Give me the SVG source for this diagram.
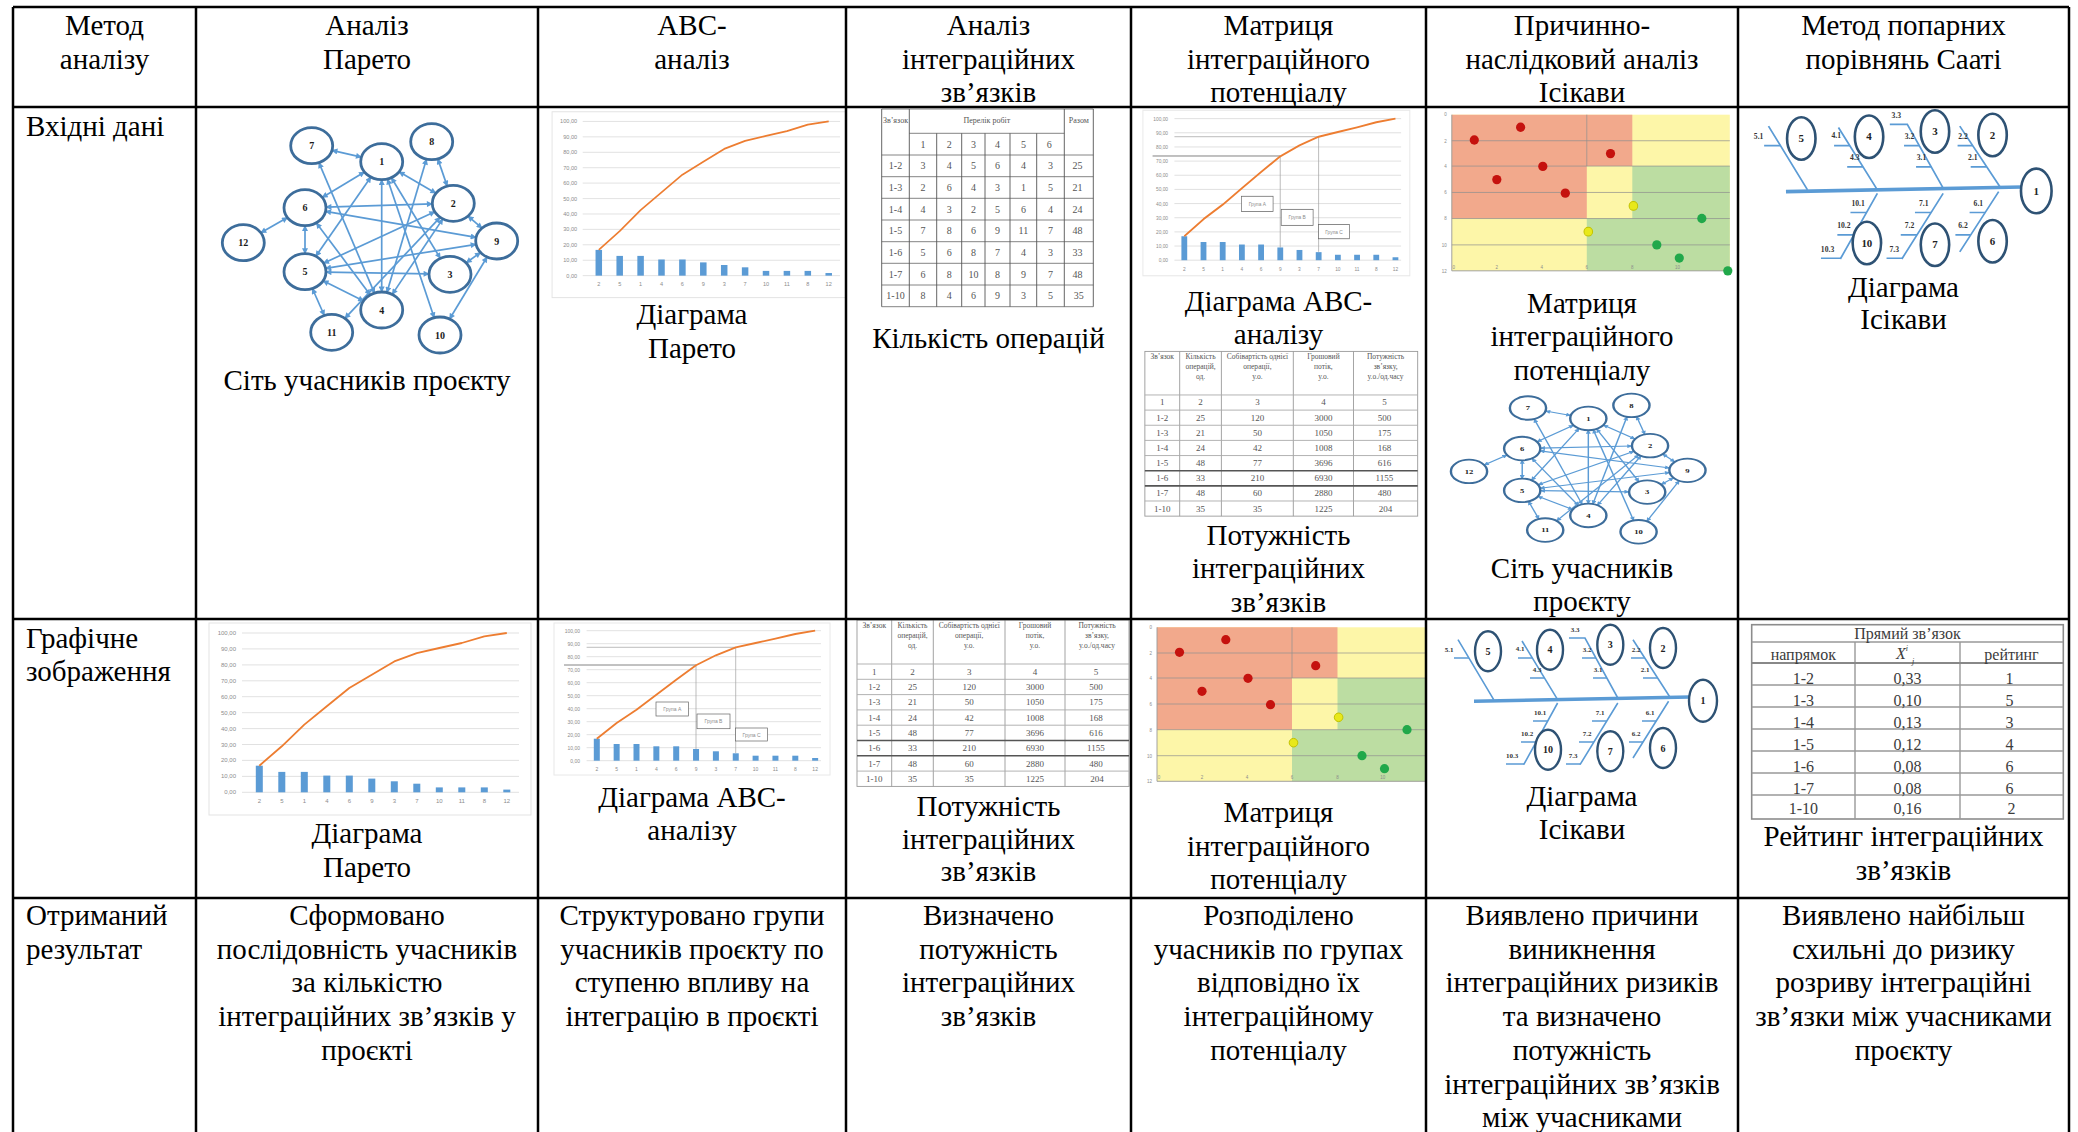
<svg xmlns="http://www.w3.org/2000/svg" width="2078" height="1132" viewBox="0 0 2078 1132">
<style>
.t{font-family:"Liberation Serif","Times New Roman",serif;font-size:29px;fill:#000}
.c{text-anchor:middle}
.tl{stroke:#000;stroke-width:2.5;fill:none}
.edge{stroke:#5b9bd5;stroke-width:1.7;fill:none;marker-start:url(#arr);marker-end:url(#arr)}
.nd{fill:#fff;stroke:#3d6d9b;stroke-width:2.8}
.nl{font-family:"Liberation Serif",serif;font-size:10px;font-weight:bold;text-anchor:middle;fill:#1a1a1a}
.gl{stroke:#d9d9d9;stroke-width:0.8;fill:none}
.ax{font-family:"Liberation Sans",sans-serif;fill:#8c8c8c}
.bar{fill:#5b9bd5}
.cur{fill:none;stroke:#ed7d31;stroke-width:1.8;stroke-linejoin:round}
.fb{stroke:#5b9bd5;fill:none;stroke-width:1.6}
.fc{fill:#fff;stroke:#2e5274;stroke-width:2.4}
.fl{font-family:"Liberation Serif",serif;font-size:7px;font-weight:bold;text-anchor:middle;fill:#333}
.fn{font-family:"Liberation Serif",serif;font-size:10px;font-weight:bold;text-anchor:middle;fill:#222}
.st{font-family:"Liberation Serif",serif;fill:#555;text-anchor:middle}
.rt{font-family:"Liberation Serif",serif;font-size:16px;fill:#3c3c3c;text-anchor:middle}
</style>
<defs>
<marker id="arr" viewBox="0 0 10 10" refX="9" refY="5" markerWidth="7" markerHeight="6" orient="auto-start-reverse" markerUnits="userSpaceOnUse"><path d="M0 0L10 5L0 10z" fill="#5b9bd5"/></marker>
<clipPath id="clipC2"><rect x="538" y="107" width="308" height="512"/></clipPath>
<clipPath id="clipC4"><rect x="1131" y="619" width="295" height="279"/></clipPath>

<g id="net">
<g id="net-edges">
<line class="edge" x1="332" y1="150.3" x2="361.4" y2="157.1"/>
<line class="edge" x1="318.9" y1="162.6" x2="374.5" y2="293.1"/>
<line class="edge" x1="364.5" y1="172" x2="322.2" y2="197.4"/>
<line class="edge" x1="370.9" y1="177.1" x2="315.8" y2="256.3"/>
<line class="edge" x1="381.7" y1="179.7" x2="381.7" y2="292"/>
<line class="edge" x1="399.1" y1="171.8" x2="435.9" y2="193.2"/>
<line class="edge" x1="391.4" y1="177.7" x2="440.3" y2="258.3"/>
<line class="edge" x1="387.5" y1="179" x2="434.2" y2="317.7"/>
<line class="edge" x1="437.8" y1="158.9" x2="447.2" y2="186.1"/>
<line class="edge" x1="426.5" y1="159.1" x2="386.9" y2="292.6"/>
<line class="edge" x1="326" y1="207.1" x2="432.3" y2="203.9"/>
<line class="edge" x1="325.6" y1="211.3" x2="476.1" y2="237.4"/>
<line class="edge" x1="316.4" y1="222.9" x2="370.3" y2="294.9"/>
<line class="edge" x1="305" y1="225.7" x2="305" y2="253.7"/>
<line class="edge" x1="260.8" y1="232.8" x2="287.5" y2="217.6"/>
<line class="edge" x1="323.5" y1="263.2" x2="434.8" y2="211.8"/>
<line class="edge" x1="325.6" y1="268.4" x2="476.1" y2="244.3"/>
<line class="edge" x1="326" y1="272.1" x2="429" y2="273.9"/>
<line class="edge" x1="323.1" y1="280.8" x2="363.6" y2="300.9"/>
<line class="edge" x1="312.4" y1="288.5" x2="324.3" y2="315.5"/>
<line class="edge" x1="442.8" y1="218.9" x2="392.2" y2="294.4"/>
<line class="edge" x1="468" y1="216.1" x2="482" y2="228.2"/>
<line class="edge" x1="480.5" y1="252.5" x2="466.2" y2="262.8"/>
<line class="edge" x1="487.1" y1="257" x2="449.6" y2="319"/>
<line class="edge" x1="440.1" y1="217.3" x2="344.9" y2="318.3"/>
</g>
<g id="net-n1"><ellipse class="nd" cx="381.7" cy="161.7" rx="21" ry="18"/><text class="nl" x="381.7" y="165.2">1</text></g>
<g id="net-n2"><ellipse class="nd" cx="453.3" cy="203.3" rx="21" ry="18"/><text class="nl" x="453.3" y="206.8">2</text></g>
<g id="net-n3"><ellipse class="nd" cx="450" cy="274.3" rx="21" ry="18"/><text class="nl" x="450" y="277.8">3</text></g>
<g id="net-n4"><ellipse class="nd" cx="381.7" cy="310" rx="21" ry="18"/><text class="nl" x="381.7" y="313.5">4</text></g>
<g id="net-n5"><ellipse class="nd" cx="305" cy="271.7" rx="21" ry="18"/><text class="nl" x="305" y="275.2">5</text></g>
<g id="net-n6"><ellipse class="nd" cx="305" cy="207.7" rx="21" ry="18"/><text class="nl" x="305" y="211.2">6</text></g>
<g id="net-n7"><ellipse class="nd" cx="311.7" cy="145.7" rx="21" ry="18"/><text class="nl" x="311.7" y="149.2">7</text></g>
<g id="net-n8"><ellipse class="nd" cx="431.7" cy="141.7" rx="21" ry="18"/><text class="nl" x="431.7" y="145.2">8</text></g>
<g id="net-n9"><ellipse class="nd" cx="496.7" cy="241" rx="21" ry="18"/><text class="nl" x="496.7" y="244.5">9</text></g>
<g id="net-n10"><ellipse class="nd" cx="440" cy="335" rx="21" ry="18"/><text class="nl" x="440" y="338.5">10</text></g>
<g id="net-n11"><ellipse class="nd" cx="331.7" cy="332.3" rx="21" ry="18"/><text class="nl" x="331.7" y="335.8">11</text></g>
<g id="net-n12"><ellipse class="nd" cx="243.3" cy="242.7" rx="21" ry="18"/><text class="nl" x="243.3" y="246.2">12</text></g>
</g>

<g id="par">
<rect x="209" y="623" width="322" height="192" fill="#fff" stroke="#e3e3e3"/>
<path class="gl" d="M242 633H519M242 648.9H519M242 664.9H519M242 680.8H519M242 696.7H519M242 712.7H519M242 728.6H519M242 744.5H519M242 760.4H519M242 776.4H519M242 792.3H519"/>
<text class="ax" font-size="6" text-anchor="end"><tspan x="236" y="635">100,00</tspan><tspan x="236" y="651">90,00</tspan><tspan x="236" y="667">80,00</tspan><tspan x="236" y="683">70,00</tspan><tspan x="236" y="699">60,00</tspan><tspan x="236" y="715">50,00</tspan><tspan x="236" y="730.6">40,00</tspan><tspan x="236" y="746.5">30,00</tspan><tspan x="236" y="762.4">20,00</tspan><tspan x="236" y="778.4">10,00</tspan><tspan x="236" y="794.3">0,00</tspan></text>
<rect class="bar" x="255.8" y="765.7" width="7" height="26.6"/>
<rect class="bar" x="278.3" y="771.9" width="7" height="20.4"/>
<rect class="bar" x="300.8" y="771.9" width="7" height="20.4"/>
<rect class="bar" x="323.3" y="775.6" width="7" height="16.7"/>
<rect class="bar" x="345.8" y="775.6" width="7" height="16.7"/>
<rect class="bar" x="368.3" y="778.6" width="7" height="13.7"/>
<rect class="bar" x="390.8" y="781.3" width="7" height="11"/>
<rect class="bar" x="413.3" y="783.7" width="7" height="8.6"/>
<rect class="bar" x="435.8" y="787.4" width="7" height="4.9"/>
<rect class="bar" x="458.3" y="787.4" width="7" height="4.9"/>
<rect class="bar" x="480.8" y="787.4" width="7" height="4.9"/>
<rect class="bar" x="503.3" y="789.6" width="7" height="2.7"/>
<path class="cur" d="M259.3 765.7L281.8 746.3L304.3 724.6L326.8 706.3L349.3 688L371.8 674.7L394.3 661.4L416.8 653.1L439.3 648L461.8 643L484.3 636.3L506.8 633"/>
<text class="ax" font-size="6" text-anchor="middle" y="803"><tspan x="259.3">2</tspan><tspan x="281.8">5</tspan><tspan x="304.3">1</tspan><tspan x="326.8">4</tspan><tspan x="349.3">6</tspan><tspan x="371.8">9</tspan><tspan x="394.3">3</tspan><tspan x="416.8">7</tspan><tspan x="439.3">10</tspan><tspan x="461.8">11</tspan><tspan x="484.3">8</tspan><tspan x="506.8">12</tspan></text>
</g>

<g id="abc">
<rect x="554" y="623" width="276" height="152" fill="#fff" stroke="#e8e8e8"/>
<path class="gl" d="M586.6 630.7H821M586.6 643.7H821M586.6 656.7H821M586.6 669.7H821M586.6 682.7H821M586.6 695.7H821M586.6 708.7H821M586.6 721.7H821M586.6 734.7H821M586.6 747.7H821M586.6 760.7H821"/>
<text class="ax" font-size="5" text-anchor="end"><tspan x="580" y="632.5">100,00</tspan><tspan x="580" y="645.5">90,00</tspan><tspan x="580" y="658.5">80,00</tspan><tspan x="580" y="671.5">70,00</tspan><tspan x="580" y="684.5">60,00</tspan><tspan x="580" y="697.5">50,00</tspan><tspan x="580" y="710.5">40,00</tspan><tspan x="580" y="723.5">30,00</tspan><tspan x="580" y="736.5">20,00</tspan><tspan x="580" y="749.5">10,00</tspan><tspan x="580" y="762.5">0,00</tspan></text>
<path d="M564 665H696" stroke="#666" stroke-width="0.8"/>
<path d="M696 665V749M586.6 647.3H735.7M735.7 647.3V753" stroke="#a0a0a0" stroke-width="0.7" fill="none"/>
<rect class="bar" x="593.8" y="738.7" width="6" height="22"/>
<rect class="bar" x="613.65" y="744" width="6" height="16.7"/>
<rect class="bar" x="633.5" y="744" width="6" height="16.7"/>
<rect class="bar" x="653.35" y="746.3" width="6" height="14.4"/>
<rect class="bar" x="673.2" y="746.3" width="6" height="14.4"/>
<rect class="bar" x="693.05" y="749" width="6" height="11.7"/>
<rect class="bar" x="712.9" y="751.3" width="6" height="9.4"/>
<rect class="bar" x="732.75" y="753.3" width="6" height="7.4"/>
<rect class="bar" x="752.6" y="755.7" width="6" height="5"/>
<rect class="bar" x="772.45" y="755.7" width="6" height="5"/>
<rect class="bar" x="792.3" y="755.7" width="6" height="5"/>
<rect class="bar" x="812.15" y="758" width="6" height="2.7"/>
<path class="cur" d="M596.8 738.7L616.65 723L636.5 709.7L656.35 694.7L676.2 679.7L696.05 665.3L715.9 655.3L735.75 647.3L755.6 643L775.45 638.7L795.3 634L815.15 630.7"/>
<g fill="#fff" stroke="#666" stroke-width="0.7"><rect x="656" y="702" width="32.6" height="14"/><rect x="697" y="714" width="33" height="14.7"/><rect x="735.6" y="728" width="32" height="13"/></g>
<text class="ax" font-size="5" fill="#444" text-anchor="middle"><tspan x="672.3" y="711">Група А</tspan><tspan x="713.5" y="723.3">Група В</tspan><tspan x="751.6" y="736.5">Група С</tspan></text>
<text class="ax" font-size="5" text-anchor="middle" y="770.5"><tspan x="596.8">2</tspan><tspan x="616.65">5</tspan><tspan x="636.5">1</tspan><tspan x="656.35">4</tspan><tspan x="676.2">6</tspan><tspan x="696.05">9</tspan><tspan x="715.9">3</tspan><tspan x="735.75">7</tspan><tspan x="755.6">10</tspan><tspan x="775.45">11</tspan><tspan x="795.3">8</tspan><tspan x="815.15">12</tspan></text>
</g>

<g id="pot">
<rect x="857" y="620" width="272" height="166.4" fill="#fff" stroke="#999" stroke-width="0.9"/>
<path d="M891.7 620V786.4M933.3 620V786.4M1005 620V786.4M1065 620V786.4" stroke="#999" stroke-width="0.9"/>
<path d="M857 664H1129M857 679.3H1129M857 694.6H1129M857 709.9H1129M857 725.2H1129M857 771.1H1129" stroke="#aaa" stroke-width="0.9"/>
<path d="M857 740.5H1129M857 755.8H1129" stroke="#555" stroke-width="1.6"/>
<text class="st" font-size="7.5"><tspan x="874.3" y="627.5">Зв’язок</tspan><tspan x="912.5" y="627.5">Кількість</tspan><tspan x="912.5" y="637.5">операцій,</tspan><tspan x="912.5" y="648">од.</tspan><tspan x="969.2" y="627.5">Собівартість однієї</tspan><tspan x="969.2" y="637.5">операції,</tspan><tspan x="969.2" y="648">у.о.</tspan><tspan x="1035" y="627.5">Грошовий</tspan><tspan x="1035" y="637.5">потік,</tspan><tspan x="1035" y="648">у.о.</tspan><tspan x="1097" y="627.5">Потужність</tspan><tspan x="1097" y="637.5">зв’язку,</tspan><tspan x="1097" y="648">у.о./од.часу</tspan></text>
<text class="st" font-size="9">
<tspan x="874.3" y="674.6">1</tspan><tspan x="912.5" y="674.6">2</tspan><tspan x="969.2" y="674.6">3</tspan><tspan x="1035" y="674.6">4</tspan><tspan x="1097" y="674.6">5</tspan>
<tspan x="874.3" y="690">1-2</tspan><tspan x="912.5" y="690">25</tspan><tspan x="969.2" y="690">120</tspan><tspan x="1035" y="690">3000</tspan><tspan x="1097" y="690">500</tspan>
<tspan x="874.3" y="705.3">1-3</tspan><tspan x="912.5" y="705.3">21</tspan><tspan x="969.2" y="705.3">50</tspan><tspan x="1035" y="705.3">1050</tspan><tspan x="1097" y="705.3">175</tspan>
<tspan x="874.3" y="720.6">1-4</tspan><tspan x="912.5" y="720.6">24</tspan><tspan x="969.2" y="720.6">42</tspan><tspan x="1035" y="720.6">1008</tspan><tspan x="1097" y="720.6">168</tspan>
<tspan x="874.3" y="735.9">1-5</tspan><tspan x="912.5" y="735.9">48</tspan><tspan x="969.2" y="735.9">77</tspan><tspan x="1035" y="735.9">3696</tspan><tspan x="1097" y="735.9">616</tspan>
<tspan x="874.3" y="751.2">1-6</tspan><tspan x="912.5" y="751.2">33</tspan><tspan x="969.2" y="751.2">210</tspan><tspan x="1035" y="751.2">6930</tspan><tspan x="1097" y="751.2">1155</tspan>
<tspan x="874.3" y="766.5">1-7</tspan><tspan x="912.5" y="766.5">48</tspan><tspan x="969.2" y="766.5">60</tspan><tspan x="1035" y="766.5">2880</tspan><tspan x="1097" y="766.5">480</tspan>
<tspan x="874.3" y="781.8">1-10</tspan><tspan x="912.5" y="781.8">35</tspan><tspan x="969.2" y="781.8">35</tspan><tspan x="1035" y="781.8">1225</tspan><tspan x="1097" y="781.8">204</tspan>
</text>
</g>

<g id="mtx">
<rect x="1157" y="627.3" width="278" height="154" fill="#fdf6a8"/>
<path fill="#f2a98c" d="M1157 627.3H1337.5V678H1292V729.7H1157Z"/>
<path fill="#bcdda2" d="M1337.5 678H1435V781.3H1292V729.7H1337.5Z"/>
<path stroke="#8f8f8f" stroke-width="0.7" fill="none" d="M1157 653H1435M1157 678H1435M1157 704H1435M1157 729.7H1435M1157 755.7H1435M1292 627.3V678"/>
<path stroke="#999" stroke-width="0.9" fill="none" d="M1157 627.3V781.3H1435"/>
<text class="ax" font-size="4.5" text-anchor="end"><tspan x="1152" y="629">0</tspan><tspan x="1152" y="655">2</tspan><tspan x="1152" y="680">4</tspan><tspan x="1152" y="706">6</tspan><tspan x="1152" y="731.5">8</tspan><tspan x="1152" y="757.5">10</tspan><tspan x="1152" y="783">12</tspan></text>
<text class="ax" font-size="4.5" text-anchor="middle" y="779"><tspan x="1159">0</tspan><tspan x="1202">2</tspan><tspan x="1247">4</tspan><tspan x="1292">6</tspan><tspan x="1337.5">8</tspan><tspan x="1382.7">10</tspan></text>
<g fill="#c5120e"><circle cx="1179.5" cy="652.3" r="4.6"/><circle cx="1225.8" cy="639.7" r="4.6"/><circle cx="1315.7" cy="665.7" r="4.6"/><circle cx="1248" cy="678.3" r="4.6"/><circle cx="1202" cy="691.3" r="4.6"/><circle cx="1270.5" cy="704.7" r="4.6"/></g>
<g fill="#e8e81a" stroke="#c2c200" stroke-width="1"><circle cx="1338.6" cy="717.3" r="4.3"/><circle cx="1293.5" cy="742.7" r="4.3"/></g>
<g fill="#21a84a"><circle cx="1407" cy="729.7" r="4.6"/><circle cx="1362" cy="755.7" r="4.6"/><circle cx="1384.5" cy="768.7" r="4.6"/><circle cx="1433" cy="781.3" r="4.6"/></g>
</g>

<g id="fish">
<path d="M1474 701.3L1690 697" stroke="#5b9bd5" stroke-width="3.5" fill="none"/>
<path class="fb" d="M1458 639.7L1493.7 699.7M1522 641L1557.6 699.7M1569 638H1585L1617.8 698M1633 639.7L1670.5 698M1557.6 703L1523.7 764.7M1617.8 703L1580 764.7M1668.6 701.3L1633 758"/>
<path class="fb" d="M1454 658H1469M1518 658H1532.3M1530 678H1544.4M1582 658H1596M1593 678H1607M1631 658H1644.8M1643 678H1657.6M1533 721H1547.7M1521 742H1536.2M1506 764H1524M1592 721H1606.8M1579 742H1593.9M1566 764H1580.4M1642 721H1656.2M1629 742H1643"/>
<ellipse class="fc" cx="1703" cy="700.7" rx="14" ry="21"/>
<ellipse class="fc" cx="1488" cy="651.3" rx="13" ry="20"/>
<ellipse class="fc" cx="1550" cy="649.7" rx="13" ry="20"/>
<ellipse class="fc" cx="1610.3" cy="644.7" rx="13" ry="20"/>
<ellipse class="fc" cx="1663" cy="648" rx="13" ry="20"/>
<ellipse class="fc" cx="1548" cy="749.7" rx="13" ry="20"/>
<ellipse class="fc" cx="1610.3" cy="751.3" rx="13" ry="20"/>
<ellipse class="fc" cx="1663" cy="748" rx="13" ry="20"/>
<text class="fn"><tspan x="1703" y="704.2">1</tspan><tspan x="1488" y="654.8">5</tspan><tspan x="1550" y="653.2">4</tspan><tspan x="1610.3" y="648.2">3</tspan><tspan x="1663" y="651.5">2</tspan><tspan x="1548" y="753.2">10</tspan><tspan x="1610.3" y="754.8">7</tspan><tspan x="1663" y="751.5">6</tspan></text>
<text class="fl"><tspan x="1449" y="652">5.1</tspan><tspan x="1520" y="651">4.1</tspan><tspan x="1537" y="672">4.3</tspan><tspan x="1575" y="632">3.3</tspan><tspan x="1587" y="652">3.2</tspan><tspan x="1598" y="672">3.1</tspan><tspan x="1636" y="652">2.2</tspan><tspan x="1645" y="672">2.1</tspan><tspan x="1540" y="715">10.1</tspan><tspan x="1527" y="736">10.2</tspan><tspan x="1512" y="758">10.3</tspan><tspan x="1600" y="715">7.1</tspan><tspan x="1587" y="736">7.2</tspan><tspan x="1573" y="758">7.3</tspan><tspan x="1650" y="715">6.1</tspan><tspan x="1636" y="736">6.2</tspan></text>
</g>
</defs>

<g id="cell-r2-c1"><use href="#net"/></g>
<g id="cell-r2-c2" clip-path="url(#clipC2)"><use href="#par" transform="matrix(0.929 0 0 0.968 357.9 -491.3)"/></g>
<g id="cell-r2-c3">
<path d="M881.7 109H1093.3M909.3 133.3H1064.3M881.7 155H1093.3M881.7 176.7H1093.3M881.7 198.3H1093.3M881.7 220H1093.3M881.7 241.7H1093.3M881.7 263.3H1093.3M881.7 285H1093.3M881.7 306.7H1093.3" stroke="#777" stroke-width="0.9"/>
<path d="M881.7 109V306.7M909.3 109V306.7M936.7 133.3V306.7M961.7 133.3V306.7M985 133.3V306.7M1010 133.3V306.7M1036.7 133.3V306.7M1064.3 109V306.7M1093.3 109V306.7" stroke="#555" stroke-width="0.9"/>
<text class="st" font-size="8"><tspan x="895.5" y="123">Зв’язок</tspan><tspan x="986.8" y="123">Перелік робіт</tspan><tspan x="1078.8" y="123">Разом</tspan></text>
<text class="st" font-size="10">
<tspan x="923" y="147.5">1</tspan><tspan x="949.2" y="147.5">2</tspan><tspan x="973.4" y="147.5">3</tspan><tspan x="997.5" y="147.5">4</tspan><tspan x="1023.4" y="147.5">5</tspan><tspan x="1050.5" y="147.5">6</tspan>
<tspan x="895.5" y="169.3">1-2</tspan><tspan x="923" y="169.3">3</tspan><tspan x="949.2" y="169.3">4</tspan><tspan x="973.4" y="169.3">5</tspan><tspan x="997.5" y="169.3">6</tspan><tspan x="1023.4" y="169.3">4</tspan><tspan x="1050.5" y="169.3">3</tspan><tspan x="1078.8" y="169.3">25</tspan>
<tspan x="895.5" y="191">1-3</tspan><tspan x="923" y="191">2</tspan><tspan x="949.2" y="191">6</tspan><tspan x="973.4" y="191">4</tspan><tspan x="997.5" y="191">3</tspan><tspan x="1023.4" y="191">1</tspan><tspan x="1050.5" y="191">5</tspan><tspan x="1078.8" y="191">21</tspan>
<tspan x="895.5" y="212.7">1-4</tspan><tspan x="923" y="212.7">4</tspan><tspan x="949.2" y="212.7">3</tspan><tspan x="973.4" y="212.7">2</tspan><tspan x="997.5" y="212.7">5</tspan><tspan x="1023.4" y="212.7">6</tspan><tspan x="1050.5" y="212.7">4</tspan><tspan x="1078.8" y="212.7">24</tspan>
<tspan x="895.5" y="234.3">1-5</tspan><tspan x="923" y="234.3">7</tspan><tspan x="949.2" y="234.3">8</tspan><tspan x="973.4" y="234.3">6</tspan><tspan x="997.5" y="234.3">9</tspan><tspan x="1023.4" y="234.3">11</tspan><tspan x="1050.5" y="234.3">7</tspan><tspan x="1078.8" y="234.3">48</tspan>
<tspan x="895.5" y="256">1-6</tspan><tspan x="923" y="256">5</tspan><tspan x="949.2" y="256">6</tspan><tspan x="973.4" y="256">8</tspan><tspan x="997.5" y="256">7</tspan><tspan x="1023.4" y="256">4</tspan><tspan x="1050.5" y="256">3</tspan><tspan x="1078.8" y="256">33</tspan>
<tspan x="895.5" y="277.7">1-7</tspan><tspan x="923" y="277.7">6</tspan><tspan x="949.2" y="277.7">8</tspan><tspan x="973.4" y="277.7">10</tspan><tspan x="997.5" y="277.7">8</tspan><tspan x="1023.4" y="277.7">9</tspan><tspan x="1050.5" y="277.7">7</tspan><tspan x="1078.8" y="277.7">48</tspan>
<tspan x="895.5" y="299.3">1-10</tspan><tspan x="923" y="299.3">8</tspan><tspan x="949.2" y="299.3">4</tspan><tspan x="973.4" y="299.3">6</tspan><tspan x="997.5" y="299.3">9</tspan><tspan x="1023.4" y="299.3">3</tspan><tspan x="1050.5" y="299.3">5</tspan><tspan x="1078.8" y="299.3">35</tspan>
</text>
</g>
<g id="cell-r2-c4"><use href="#abc" transform="matrix(0.967 0 0 1.089 607.2 -568.2)"/><use href="#pot" transform="matrix(1.003 0 0 0.99 285.3 -262.4)"/></g>
<g id="cell-r2-c5"><use href="#mtx" transform="matrix(1 0 0 1.014 294.8 -521.4)"/><use href="#net" transform="matrix(0.862 0 0 0.654 1259.3 312.7)"/></g>
<g id="cell-r2-c6"><use href="#fish" transform="matrix(1.093 0 0 1.063 174.9 -553.9)"/></g>

<g id="cell-r3-c1"><use href="#par"/></g>
<g id="cell-r3-c2"><use href="#abc"/></g>
<g id="cell-r3-c3"><use href="#pot"/></g>
<g id="cell-r3-c4" clip-path="url(#clipC4)"><use href="#mtx"/></g>
<g id="cell-r3-c5"><use href="#fish"/></g>
<g id="cell-r3-c6">
<rect x="1751.7" y="624.7" width="311.6" height="194.3" fill="#fff" stroke="#8c8c8c" stroke-width="1.6"/>
<path d="M1751.7 642H2063.3M1751.7 685H2063.3M1751.7 707H2063.3M1751.7 729H2063.3M1751.7 751H2063.3M1751.7 773H2063.3M1751.7 795H2063.3M1855 642V819M1960 642V819" stroke="#999" stroke-width="1.4"/>
<path d="M1751.7 663H2063.3" stroke="#888" stroke-width="1.8"/>
<text class="rt"><tspan x="1907.5" y="638.5">Прямий зв’язок</tspan><tspan x="1803.3" y="660">напрямок</tspan><tspan x="2011.5" y="660">рейтинг</tspan></text>
<text class="rt" font-style="italic" text-anchor="start" x="1902" y="659">X<tspan font-size="8" dy="-8">i</tspan><tspan font-size="8" x="1913" dy="13">j</tspan></text>
<text class="rt">
<tspan x="1803.3" y="683.5">1-2</tspan><tspan x="1907.5" y="683.5">0,33</tspan><tspan x="2011.5" y="683.5">1</tspan>
<tspan x="1803.3" y="705.5">1-3</tspan><tspan x="1907.5" y="705.5">0,10</tspan><tspan x="2011.5" y="705.5">5</tspan>
<tspan x="1803.3" y="727.5">1-4</tspan><tspan x="1907.5" y="727.5">0,13</tspan><tspan x="2011.5" y="727.5">3</tspan>
<tspan x="1803.3" y="749.5">1-5</tspan><tspan x="1907.5" y="749.5">0,12</tspan><tspan x="2011.5" y="749.5">4</tspan>
<tspan x="1803.3" y="771.5">1-6</tspan><tspan x="1907.5" y="771.5">0,08</tspan><tspan x="2011.5" y="771.5">6</tspan>
<tspan x="1803.3" y="793.5">1-7</tspan><tspan x="1907.5" y="793.5">0,08</tspan><tspan x="2011.5" y="793.5">6</tspan>
<tspan x="1803.3" y="814">1-10</tspan><tspan x="1907.5" y="814">0,16</tspan><tspan x="2011.5" y="814">2</tspan>
</text>
</g>

<g id="table-lines">
<path class="tl" d="M13 7V1132M196 7V1132M538 7V1132M846 7V1132M1131 7V1132M1426 7V1132M1738 7V1132M2069 7V1132"/>
<path class="tl" d="M13 7H2069M13 107H2069M13 619H2069M13 898H2069"/>
</g>

<g id="text-header" class="t c">
<text><tspan x="104.5" y="35">Метод</tspan><tspan x="104.5" y="68.5">аналізу</tspan></text>
<text><tspan x="367" y="35">Аналіз</tspan><tspan x="367" y="68.5">Парето</tspan></text>
<text><tspan x="692" y="35">ABC-</tspan><tspan x="692" y="68.5">аналіз</tspan></text>
<text><tspan x="988.5" y="35">Аналіз</tspan><tspan x="988.5" y="68.5">інтеграційних</tspan><tspan x="988.5" y="102">зв’язків</tspan></text>
<text><tspan x="1278.5" y="35">Матриця</tspan><tspan x="1278.5" y="68.5">інтеграційного</tspan><tspan x="1278.5" y="102">потенціалу</tspan></text>
<text><tspan x="1582" y="35">Причинно-</tspan><tspan x="1582" y="68.5">наслідковий аналіз</tspan><tspan x="1582" y="102">Ісікави</tspan></text>
<text><tspan x="1903.5" y="35">Метод попарних</tspan><tspan x="1903.5" y="68.5">порівнянь Сааті</tspan></text>
</g>

<g id="text-row2" class="t">
<text x="26" y="136">Вхідні дані</text>
<text class="c" x="367" y="390">Сіть учасників проєкту</text>
<text class="c"><tspan x="692" y="324">Діаграма</tspan><tspan x="692" y="358">Парето</tspan></text>
<text class="c" x="988.5" y="348">Кількість операцій</text>
<text class="c"><tspan x="1278.5" y="310.5">Діаграма ABC-</tspan><tspan x="1278.5" y="344">аналізу</tspan><tspan x="1278.5" y="544.5">Потужність</tspan><tspan x="1278.5" y="578">інтеграційних</tspan><tspan x="1278.5" y="611.5">зв’язків</tspan></text>
<text class="c"><tspan x="1582" y="312.5">Матриця</tspan><tspan x="1582" y="346">інтеграційного</tspan><tspan x="1582" y="379.5">потенціалу</tspan><tspan x="1582" y="577.5">Сіть учасників</tspan><tspan x="1582" y="611">проєкту</tspan></text>
<text class="c"><tspan x="1903.5" y="296.5">Діаграма</tspan><tspan x="1903.5" y="328.5">Ісікави</tspan></text>
</g>

<g id="text-row3" class="t">
<text><tspan x="26" y="647.5">Графічне</tspan><tspan x="26" y="681">зображення</tspan></text>
<text class="c"><tspan x="367" y="842.5">Діаграма</tspan><tspan x="367" y="876.5">Парето</tspan></text>
<text class="c"><tspan x="692" y="806.5">Діаграма ABC-</tspan><tspan x="692" y="840">аналізу</tspan></text>
<text class="c"><tspan x="988.5" y="815.5">Потужність</tspan><tspan x="988.5" y="848.5">інтеграційних</tspan><tspan x="988.5" y="881">зв’язків</tspan></text>
<text class="c"><tspan x="1278.5" y="822">Матриця</tspan><tspan x="1278.5" y="855.5">інтеграційного</tspan><tspan x="1278.5" y="889">потенціалу</tspan></text>
<text class="c"><tspan x="1582" y="805.5">Діаграма</tspan><tspan x="1582" y="839">Ісікави</tspan></text>
<text class="c"><tspan x="1903.5" y="846">Рейтинг інтеграційних</tspan><tspan x="1903.5" y="879.5">зв’язків</tspan></text>
</g>

<g id="text-row4" class="t">
<text><tspan x="26" y="925">Отриманий</tspan><tspan x="26" y="958.7">результат</tspan></text>
<text class="c"><tspan x="367" y="925">Сформовано</tspan><tspan x="367" y="958.7">послідовність учасників</tspan><tspan x="367" y="992.4">за кількістю</tspan><tspan x="367" y="1026.1">інтеграційних зв’язків у</tspan><tspan x="367" y="1059.8">проєкті</tspan></text>
<text class="c"><tspan x="692" y="925">Структуровано групи</tspan><tspan x="692" y="958.7">учасників проєкту по</tspan><tspan x="692" y="992.4">ступеню впливу на</tspan><tspan x="692" y="1026.1">інтеграцію в проєкті</tspan></text>
<text class="c"><tspan x="988.5" y="925">Визначено</tspan><tspan x="988.5" y="958.7">потужність</tspan><tspan x="988.5" y="992.4">інтеграційних</tspan><tspan x="988.5" y="1026.1">зв’язків</tspan></text>
<text class="c"><tspan x="1278.5" y="925">Розподілено</tspan><tspan x="1278.5" y="958.7">учасників по групах</tspan><tspan x="1278.5" y="992.4">відповідно їх</tspan><tspan x="1278.5" y="1026.1">інтеграційному</tspan><tspan x="1278.5" y="1059.8">потенціалу</tspan></text>
<text class="c"><tspan x="1582" y="925">Виявлено причини</tspan><tspan x="1582" y="958.7">виникнення</tspan><tspan x="1582" y="992.4">інтеграційних ризиків</tspan><tspan x="1582" y="1026.1">та визначено</tspan><tspan x="1582" y="1059.8">потужність</tspan><tspan x="1582" y="1093.5">інтеграційних зв’язків</tspan><tspan x="1582" y="1127.2">між учасниками</tspan></text>
<text class="c"><tspan x="1903.5" y="925">Виявлено найбільш</tspan><tspan x="1903.5" y="958.7">схильні до ризику</tspan><tspan x="1903.5" y="992.4">розриву інтеграційні</tspan><tspan x="1903.5" y="1026.1">зв’язки між учасниками</tspan><tspan x="1903.5" y="1059.8">проєкту</tspan></text>
</g>
</svg>
